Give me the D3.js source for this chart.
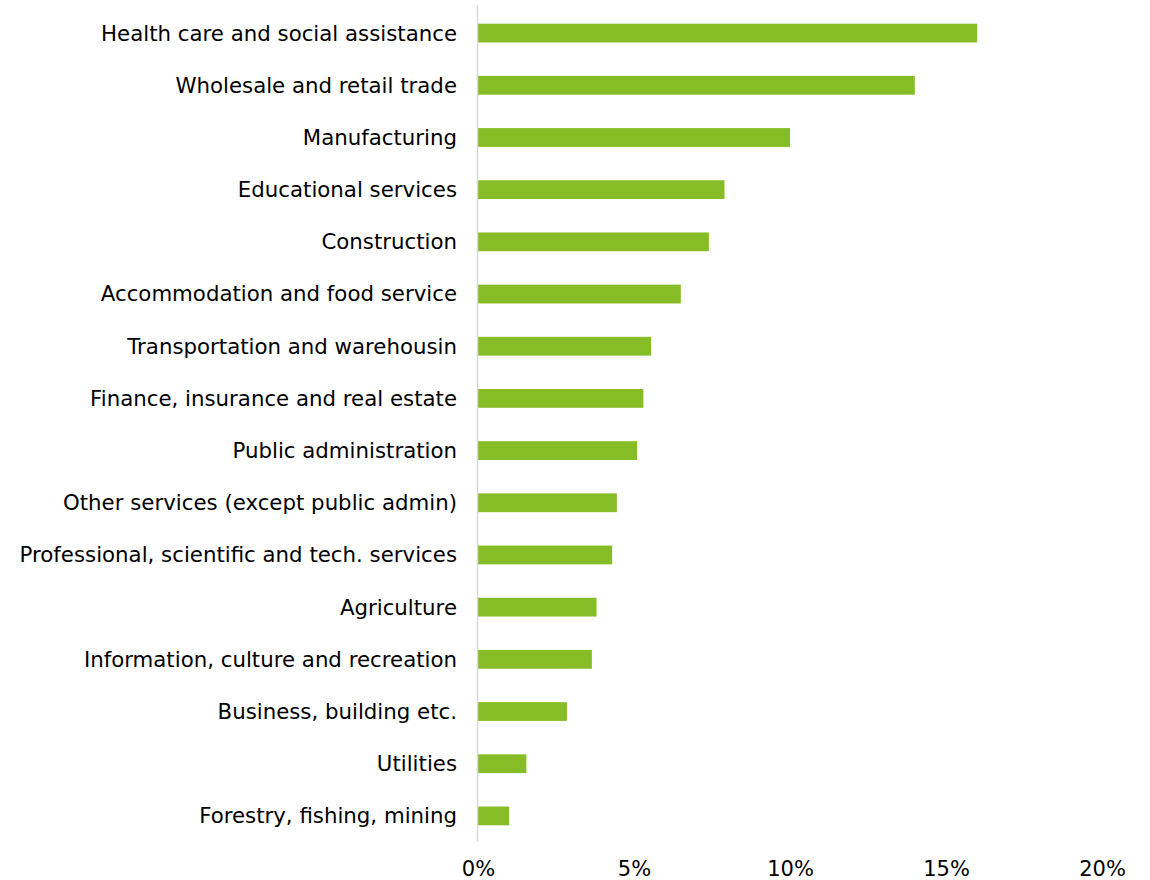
<!DOCTYPE html>
<html>
<head>
<meta charset="utf-8">
<script src="https://cdn.jsdelivr.net/npm/d3@7"></script>
<style>
  body { margin: 0; background: #fff; }
  text { font-family: Verdana, "DejaVu Sans", sans-serif; fill: #000; }
</style>
</head>
<body>
<div id="app"></div>
<script>
// Industries, top to bottom
const industries = [
  "Health care and social assistance",
  "Wholesale and retail trade",
  "Manufacturing",
  "Educational services",
  "Construction",
  "Accommodation and food service",
  "Transportation and warehousin",
  "Finance, insurance and real estate",
  "Public administration",
  "Other services (except public admin)",
  "Professional, scientific and tech. services",
  "Agriculture",
  "Information, culture and recreation",
  "Business, building etc.",
  "Utilities ",
  "Forestry, fishing, mining"
];

// Share of employment (%)
const shares = [16.0, 14.0, 10.0, 7.9, 7.4, 6.5, 5.55, 5.3, 5.1, 4.45, 4.3, 3.8, 3.65, 2.85, 1.55, 1.0];

const tickValues = [0, 5, 10, 15, 20];

const dataset = industries.map((d, i) => ({ name: d, value: shares[i] }));

const width = 1150;
const height = 880;
const margin = { top: 7, right: 48, bottom: 38, left: 478 };

const xScale = d3.scaleLinear()
  .domain([0, 20])
  .range([margin.left, width - margin.right]);

const yScale = d3.scaleBand()
  .domain(industries)
  .range([margin.top, height - margin.bottom])
  .paddingInner(0.64)
  .paddingOuter(0.32);

const svg = d3.select("#app")
  .append("svg")
  .attr("width", width)
  .attr("height", height);

// Bars
svg.selectAll("rect")
  .data(dataset)
  .enter()
  .append("rect")
  .attr("x", xScale(0))
  .attr("y", d => yScale(d.name))
  .attr("width", d => xScale(d.value) - xScale(0))
  .attr("height", yScale.bandwidth())
  .attr("fill", "#86bc25");

// Vertical axis line
svg.append("line")
  .attr("x1", xScale(0) - 0.5)
  .attr("x2", xScale(0) - 0.5)
  .attr("y1", margin.top - 2)
  .attr("y2", height - margin.bottom)
  .attr("stroke", "#d9d9d9")
  .attr("stroke-width", 1.5);

// Category labels
svg.append("g")
  .selectAll("text")
  .data(industries)
  .enter()
  .append("text")
  .attr("x", xScale(0) - 21)
  .attr("y", d => yScale(d) + yScale.bandwidth() / 2)
  .attr("dy", "0.35em")
  .attr("text-anchor", "end")
  .style("font-size", "21.3px")
  .text(d => d);

// X axis tick labels
const xAxis = d3.axisBottom(xScale)
  .tickValues(tickValues)
  .tickFormat(d => d + "%")
  .tickSize(0)
  .tickPadding(0);

const gx = svg.append("g")
  .attr("transform", `translate(0, ${height - 11})`)
  .call(xAxis);
gx.select(".domain").remove();
gx.selectAll("text")
  .attr("dy", "0.35em")
  .attr("y", 0)
  .style("font-size", "21px")
  .style("font-family", "Verdana, 'DejaVu Sans', sans-serif")
  .attr("fill", "#000");
</script>
</body>
</html>
